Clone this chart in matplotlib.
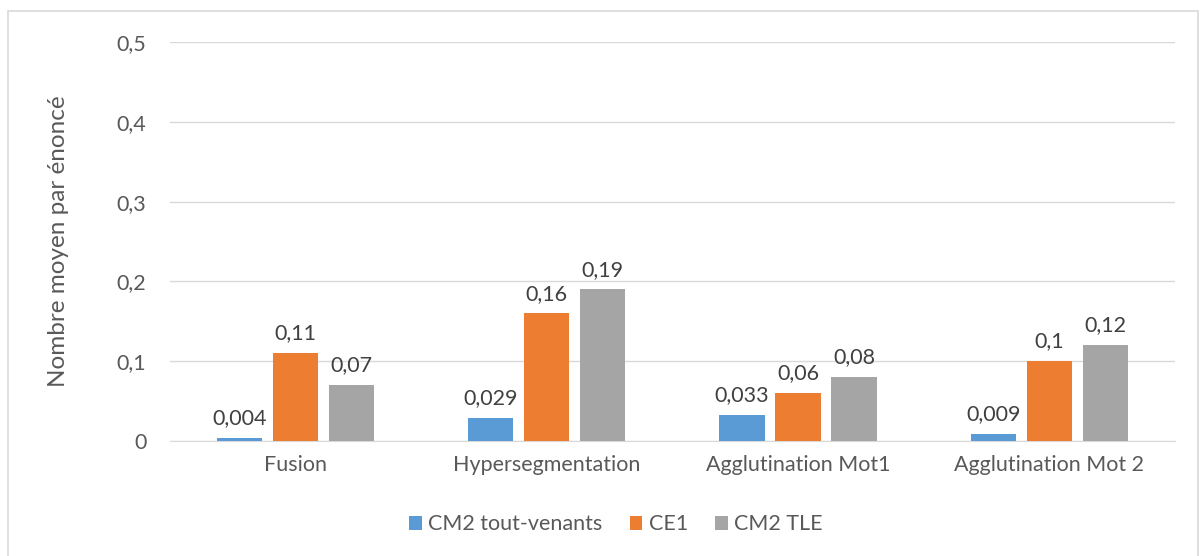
import matplotlib
matplotlib.use("Agg")
import matplotlib.pyplot as plt
import numpy as np
from matplotlib.patches import Rectangle

categories = ["Fusion", "Hypersegmentation", "Agglutination Mot1", "Agglutination Mot 2"]
series_names = ["CM2 tout-venants", "CE1", "CM2 TLE"]
cm2_tv = [0.004, 0.029, 0.033, 0.009]
ce1 = [0.11, 0.16, 0.06, 0.10]
cm2_tle = [0.07, 0.19, 0.08, 0.12]
labels_cm2_tv = ["0,004", "0,029", "0,033", "0,009"]
labels_ce1 = ["0,11", "0,16", "0,06", "0,1"]
labels_cm2_tle = ["0,07", "0,19", "0,08", "0,12"]
yticks = [0, 0.1, 0.2, 0.3, 0.4, 0.5]
ytick_labels = ["0", "0,1", "0,2", "0,3", "0,4", "0,5"]
ylabel = "Nombre moyen par énoncé"

colors = ["#5B9BD5", "#ED7D31", "#A5A5A5"]
text_color = "#595959"
plt.rcParams['font.family'] = ['Lato', 'DejaVu Sans']

fig = plt.figure(figsize=(12.02, 5.56), dpi=100)
fig.patches.append(Rectangle((0.007, -0.01), 0.99, 0.99, transform=fig.transFigure,
                             fill=False, edgecolor="#D9D9D9", linewidth=1.2))
ax = fig.add_axes([0.1414, 0.2068, 0.836, 0.7177])

x = np.arange(len(categories))
w = 0.18
step = 0.223
series = [cm2_tv, ce1, cm2_tle]
labs = [labels_cm2_tv, labels_ce1, labels_cm2_tle]
for i, (vals, lab) in enumerate(zip(series, labs)):
    pos = x + (i - 1) * step
    bars = ax.bar(pos, vals, width=w, color=colors[i], label=series_names[i], zorder=3)
    for b, t in zip(bars, lab):
        ax.annotate(t, (b.get_x() + b.get_width() / 2, b.get_height()),
                    xytext=(0, 7), textcoords="offset points", ha="center", va="bottom",
                    fontsize=15.5, color="#404040")

ax.set_xlim(-0.5, len(categories) - 0.5)
ax.set_ylim(0, 0.5)
ax.set_yticks(yticks)
ax.set_yticklabels(ytick_labels)
ax.set_xticks(x)
ax.set_xticklabels(categories)
ax.tick_params(axis="both", length=0, labelsize=15.5, colors=text_color)
ax.tick_params(axis="y", pad=17)
ax.tick_params(axis="x", pad=10)
ax.grid(axis="y", color="#D9D9D9", linewidth=1, zorder=0)
for s in ["top", "right", "left"]:
    ax.spines[s].set_visible(False)
ax.spines["bottom"].set_color("#D9D9D9")
ax.set_ylabel(ylabel, fontsize=17.5, color=text_color, labelpad=34)

leg = fig.legend(loc="center", bbox_to_anchor=(0.5125, 0.057), ncol=3, frameon=False,
                 fontsize=15.5, handlelength=0.6, handleheight=0.6, handletextpad=0.3,
                 columnspacing=1.25)
for t in leg.get_texts():
    t.set_color(text_color)

fig.savefig("out.png", dpi=100)
